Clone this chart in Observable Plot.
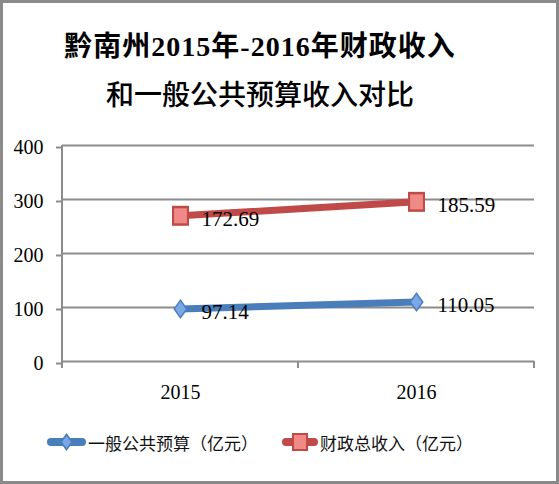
<!DOCTYPE html>
<html><head><meta charset="utf-8">
<script src="https://cdn.jsdelivr.net/npm/d3@7"></script>
<script src="https://cdn.jsdelivr.net/npm/@observablehq/plot@0.6"></script>
<style>
html,body{margin:0;padding:0;background:#fff;}
#frame{position:relative;width:559px;height:484px;background:#fff;overflow:hidden;}
#border{position:absolute;left:0;top:0;width:559px;height:484px;box-sizing:border-box;border:3px solid #8a8a8a;pointer-events:none;z-index:5;}
#title{position:absolute;left:0;top:24px;width:520px;text-align:center;color:#000;font-size:28px;line-height:46px;}
#t1{font-family:"Liberation Serif","Noto Sans CJK SC",serif;font-weight:bold;letter-spacing:1px;}
#t2{font-family:"Noto Sans CJK SC",sans-serif;font-weight:500;}
#chart{position:absolute;left:0;top:120px;}
.leg{position:absolute;top:431px;height:22px;display:flex;align-items:center;font-family:"Noto Sans CJK SC",sans-serif;font-size:17px;color:#111;white-space:nowrap;}
.leg svg{display:block;margin-right:2px;}
</style>
</head><body>
<div id="frame">
  <div id="title"><div id="t1"></div><div id="t2"></div></div>
  <div id="chart"></div>
  <div id="legend"></div>
  <div id="border"></div>
</div>
<script>
// ---- data ----
const titleLines = ["黔南州2015年-2016年财政收入", "和一般公共预算收入对比"];
const years = ["2015", "2016"];
const seriesNames = ["一般公共预算（亿元）", "财政总收入（亿元）"];
const budgetValues = [97.14, 110.05];
const revenueValues = [172.69, 185.59];
const yTicks = [0, 100, 200, 300, 400];

const lineColors = ["#4a7ebb", "#c04a47"];
const markerInner = ["#7aa7e6", "#ef8a87"];

const rows = [];
years.forEach((yr, i) => rows.push({year: yr, series: seriesNames[0], value: budgetValues[i]}));
years.forEach((yr, i) => rows.push({year: yr, series: seriesNames[1], value: revenueValues[i]}));

document.getElementById("t1").textContent = titleLines[0];
document.getElementById("t2").textContent = titleLines[1];

// custom marker shapes (sized by r)
const diamond = {draw(ctx, size) { const r = Math.sqrt(size / Math.PI); const w = r * 0.72; ctx.moveTo(0, -r); ctx.lineTo(w, 0); ctx.lineTo(0, r); ctx.lineTo(-w, 0); ctx.closePath(); }};
const square = {draw(ctx, size) { const r = Math.sqrt(size / Math.PI); const w = r * 0.85; ctx.moveTo(-w, -r); ctx.lineTo(w, -r); ctx.lineTo(w, r); ctx.lineTo(-w, r); ctx.closePath(); }};

const stackOpts = {x: "year", y: "value", z: "series"};

const chart = Plot.plot({
  width: 559,
  height: 290,
  marginLeft: 62,
  marginRight: 25,
  marginTop: 25,
  marginBottom: 49,
  style: {fontFamily: "'Liberation Serif', serif", fontSize: "20px", background: "transparent", color: "#000"},
  x: {type: "point", domain: years, padding: 0.5, label: null},
  y: {domain: [0, 400], label: null},
  color: {domain: seriesNames, range: lineColors},
  symbol: {domain: seriesNames, range: [diamond, square]},
  marks: [
    Plot.gridY(yTicks, {stroke: "#8c8c8c", strokeOpacity: 1, strokeWidth: 2}),
    Plot.axisY(yTicks, {tickSize: 6, tickPadding: 13, stroke: "#8c8c8c", strokeWidth: 2, fill: "#000", fontSize: 20, dy: 2, label: null}),
    Plot.axisX({tickSize: 0, tickPadding: 23, fontSize: 20, fill: "#000", label: null}),
    Plot.lineY(rows, Plot.stackY2({...stackOpts, stroke: "series", strokeWidth: 7, strokeLinecap: "round"})),
    Plot.dot(rows, Plot.stackY2({...stackOpts, symbol: "series", fill: "series", r: 10, stroke: "none"})),
    Plot.dot(rows, Plot.stackY2({...stackOpts, symbol: "series", fill: d => markerInner[seriesNames.indexOf(d.series)], r: 7.5, stroke: "none"})),
    Plot.text(rows, Plot.stackY2({...stackOpts, text: d => d.value.toFixed(2), dx: 21, dy: 3, textAnchor: "start", fontSize: 21, fill: "#000"}))
  ]
});
document.getElementById("chart").appendChild(chart);

// axis line and category-boundary ticks, derived from the plot's scales
const xs = chart.scale("x"), ys = chart.scale("y");
const svg = d3.select(chart);
const xPos = years.map(v => xs.apply(v));
const step = xPos[1] - xPos[0];
const bounds = [xPos[0] - step / 2, ...xPos.map(p => p + step / 2)];
const y0 = ys.apply(0), yTop = ys.apply(400);
const g = svg.append("g").attr("stroke", "#8c8c8c").attr("stroke-width", 2);
g.append("line").attr("x1", bounds[0]).attr("x2", bounds[0]).attr("y1", yTop).attr("y2", y0 + 7);
bounds.forEach(b => g.append("line").attr("x1", b).attr("x2", b).attr("y1", y0).attr("y2", y0 + 7));
// keep data marks on top
svg.selectAll("g[aria-label='line'], g[aria-label='dot'], g[aria-label='text']").raise();

// legend
const legend = document.getElementById("legend");
const legLeft = [47, 282];
seriesNames.forEach((name, i) => {
  const item = document.createElement("div");
  item.className = "leg";
  item.style.left = legLeft[i] + "px";
  const w = i === 0 ? 39 : 36;
  const shape = i === 0
    ? `<path d="M${w/2},2 L${w/2+6.5},11 L${w/2},20 L${w/2-6.5},11Z" fill="${lineColors[0]}"/><path d="M${w/2},5 L${w/2+4.5},11 L${w/2},17 L${w/2-4.5},11Z" fill="${markerInner[0]}"/>`
    : `<rect x="${w/2-8}" y="2" width="16" height="18" fill="${lineColors[1]}"/><rect x="${w/2-6}" y="4" width="12" height="14" fill="${markerInner[1]}"/>`;
  item.innerHTML = `<svg width="${w}" height="22"><line x1="4" x2="${w-4}" y1="11" y2="11" stroke="${lineColors[i]}" stroke-width="8" stroke-linecap="round"/>${shape}</svg><span>${name}</span>`;
  legend.appendChild(item);
});
</script>
</body></html>
